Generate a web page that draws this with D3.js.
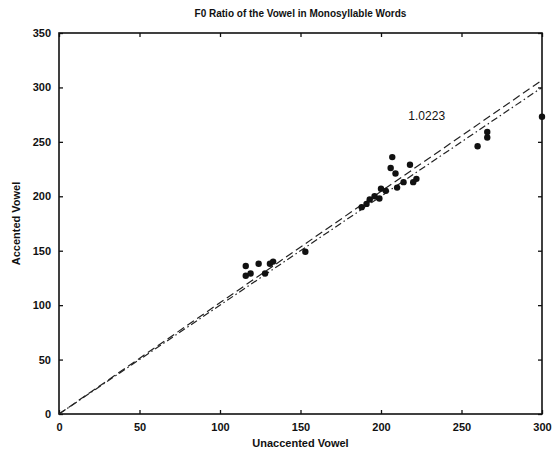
<!DOCTYPE html>
<html>
<head>
<meta charset="utf-8">
<script src="https://cdn.jsdelivr.net/npm/d3@7"></script>
<style>
  body { margin: 0; background: #fff; }
  text { font-family: "Liberation Sans", Arial, sans-serif; fill: #111; }
</style>
</head>
<body>
<div id="chart"></div>
<script>
// F0 values (Hz)
var unaccented = [116, 116, 119, 124, 128, 131, 133, 153,
    188, 191, 193, 196, 199, 200, 203, 206, 207, 209, 210, 214, 218, 220, 222,
    260, 266, 266, 300];
var accented = [136, 127, 129, 138, 129, 138, 140, 149,
    190, 193, 197, 200, 198, 207, 205, 226, 236, 221, 208, 213, 229, 213, 216,
    246, 259, 254, 273];
var slope = 1.0223;
var xTicks = [0, 50, 100, 150, 200, 250, 300];
var yTicks = [0, 50, 100, 150, 200, 250, 300, 350];

var width = 555, height = 453;
var margin = { left: 59, right: 13, top: 33, bottom: 39 };

var svg = d3.select('#chart').append('svg')
    .attr('width', width)
    .attr('height', height);

var x = d3.scaleLinear().domain([0, 300]).range([margin.left, width - margin.right]);
var y = d3.scaleLinear().domain([0, 350]).range([height - margin.bottom, margin.top]);

// axes with inward ticks, box like matlab
svg.append('g')
    .attr('transform', 'translate(0,' + y(0) + ')')
    .call(d3.axisBottom(x).tickValues(xTicks).tickSize(-4).tickPadding(9))
    .call(function (g) { g.select('.domain').remove(); });
svg.append('g')
    .attr('transform', 'translate(0,' + y(350) + ')')
    .call(d3.axisTop(x).tickValues(xTicks).tickSize(-4).tickFormat(''))
    .call(function (g) { g.select('.domain').remove(); });
svg.append('g')
    .attr('transform', 'translate(' + x(0) + ',0)')
    .call(d3.axisLeft(y).tickValues(yTicks).tickSize(-4).tickPadding(8))
    .call(function (g) { g.select('.domain').remove(); });
svg.append('g')
    .attr('transform', 'translate(' + x(300) + ',0)')
    .call(d3.axisRight(y).tickValues(yTicks).tickSize(-4).tickFormat(''))
    .call(function (g) { g.select('.domain').remove(); });

svg.selectAll('.tick line').attr('stroke', '#111').attr('stroke-width', 1.3);
svg.selectAll('.tick text')
    .attr('font-size', 11)
    .attr('font-weight', 'bold')
    .style('font-family', '"Liberation Sans", Arial, sans-serif');

svg.append('rect')
    .attr('x', x(0))
    .attr('y', y(350))
    .attr('width', x(300) - x(0))
    .attr('height', y(0) - y(350))
    .attr('fill', 'none')
    .attr('stroke', '#111')
    .attr('stroke-width', 1.6);

// reference lines through origin
var line = d3.line()
    .x(function (d) { return x(d[0]); })
    .y(function (d) { return y(d[1]); });

svg.append('path')
    .attr('d', line([[0, 0], [300, 300 * slope]]))
    .attr('fill', 'none')
    .attr('stroke', '#222')
    .attr('stroke-width', 1.2)
    .attr('stroke-dasharray', '8,4');

svg.append('path')
    .attr('d', line([[0, 0], [300, 300]]))
    .attr('fill', 'none')
    .attr('stroke', '#222')
    .attr('stroke-width', 1.2)
    .attr('stroke-dasharray', '7,3,1.5,3');

svg.selectAll('circle.pt')
    .data(unaccented)
    .enter()
    .append('circle')
    .attr('class', 'pt')
    .attr('cx', function (d) { return x(d); })
    .attr('cy', function (d, i) { return y(accented[i]); })
    .attr('r', 3.2)
    .attr('fill', '#111');

svg.append('text')
    .attr('x', x(217))
    .attr('y', y(270))
    .attr('font-size', 12)
    .text(slope.toFixed(4));

svg.append('text')
    .attr('x', (x(0) + x(300)) / 2)
    .attr('y', 17)
    .attr('text-anchor', 'middle')
    .attr('font-size', 10)
    .attr('font-weight', 'bold')
    .text('F0 Ratio of the Vowel in Monosyllable Words');

svg.append('text')
    .attr('x', (x(0) + x(300)) / 2)
    .attr('y', 447)
    .attr('text-anchor', 'middle')
    .attr('font-size', 11)
    .attr('font-weight', 'bold')
    .text('Unaccented Vowel');

svg.append('text')
    .attr('transform', 'translate(20,' + (y(0) + y(350)) / 2 + ') rotate(-90)')
    .attr('text-anchor', 'middle')
    .attr('font-size', 11)
    .attr('font-weight', 'bold')
    .text('Accented Vowel');
</script>
</body>
</html>
